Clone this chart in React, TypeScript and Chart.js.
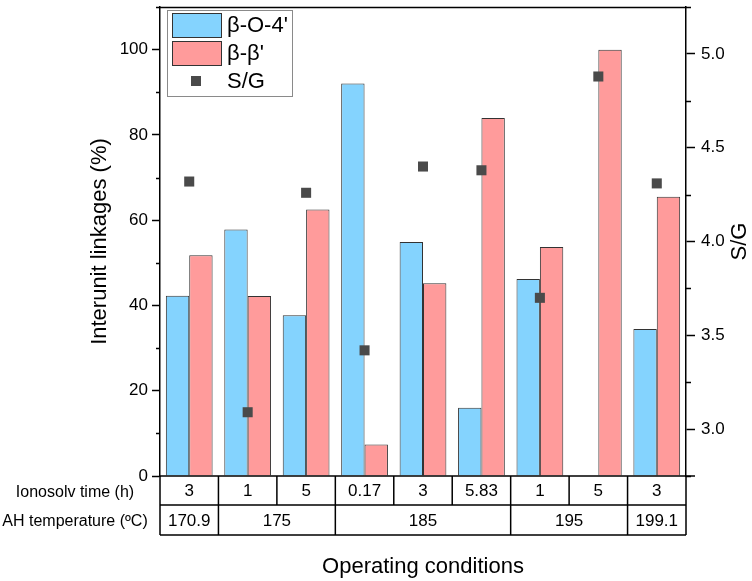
import { useEffect, useRef } from "react"
import { Chart, registerables } from "chart.js"

Chart.register(...registerables)

// table rows under the x axis
const ionosolvTime = ["3", "1", "5", "0.17", "3", "5.83", "1", "5", "3"]
const ahTemperature = ["170.9", "175", "185", "195", "199.1"]
const ahTemperatureSpan = [1, 2, 3, 2, 1]

// series
const betaO4 = [42.3, 57.8, 37.7, 92.1, 54.9, 16.0, 46.2, null, 34.5]
const betaBeta = [51.8, 42.2, 62.5, 7.4, 45.2, 84.0, 53.7, 100, 65.5]
const sgRatio = [4.32, 3.09, 4.26, 3.42, 4.4, 4.38, 3.7, 4.88, 4.31]

const FONT = "'Liberation Sans', Arial, sans-serif"
const BLUE = "#84d3fe"
const PINK = "#ff9b9b"
const POINT = "#4a4a4a"

const isStep = (v: number, step: number) => Math.abs(v / step - Math.round(v / step)) < 1e-6

const extrasPlugin = {
  id: "extras",
  afterDraw(chart: any) {
    const { ctx, chartArea } = chart
    const { left, right, top, bottom } = chartArea
    const x = chart.scales.x
    const y = chart.scales.y
    const y1 = chart.scales.y1
    ctx.save()

    // minor ticks + frame
    ctx.strokeStyle = "#000"
    ctx.lineWidth = 1.5
    ctx.beginPath()
    for (let v = 10; v <= 110; v += 20) {
      const py = Math.round(y.getPixelForValue(v)) + 0.5
      ctx.moveTo(left - 4, py)
      ctx.lineTo(left, py)
    }
    for (let v = 2.75; v <= 5.25; v += 0.5) {
      const py = Math.round(y1.getPixelForValue(v)) + 0.5
      ctx.moveTo(right, py)
      ctx.lineTo(right + 5, py)
    }
    const ty = Math.round(top) + 0.5
    ctx.moveTo(left, ty)
    ctx.lineTo(right, ty)
    ctx.stroke()

    // table
    const row1 = bottom + 29
    const row2 = bottom + 59
    const n = ionosolvTime.length
    const edge = (i: number) => (i === 0 ? left : i === n ? right : (x.getPixelForValue(i - 1) + x.getPixelForValue(i)) / 2)
    ctx.beginPath()
    ctx.moveTo(left, bottom)
    ctx.lineTo(right + 9, bottom)
    ctx.moveTo(left, row1)
    ctx.lineTo(right, row1)
    ctx.moveTo(left, row2)
    ctx.lineTo(right, row2)
    ctx.moveTo(left, bottom)
    ctx.lineTo(left, row2)
    ctx.moveTo(right, bottom)
    ctx.lineTo(right, row2)
    for (let i = 1; i < n; i++) {
      const px = edge(i)
      ctx.moveTo(px, bottom)
      ctx.lineTo(px, row1)
    }
    let acc = 0
    ahTemperatureSpan.forEach((s, i) => {
      acc += s
      if (i < ahTemperatureSpan.length - 1) {
        ctx.moveTo(edge(acc), row1)
        ctx.lineTo(edge(acc), row2)
      }
    })
    ctx.stroke()

    ctx.fillStyle = "#000"
    ctx.textAlign = "center"
    ctx.textBaseline = "middle"
    ctx.font = `17px ${FONT}`
    ionosolvTime.forEach((t, i) => ctx.fillText(t, x.getPixelForValue(i), (bottom + row1) / 2 + 1))
    acc = 0
    ahTemperature.forEach((t, i) => {
      const cx = (edge(acc) + edge(acc + ahTemperatureSpan[i])) / 2
      acc += ahTemperatureSpan[i]
      ctx.fillText(t, cx, (row1 + row2) / 2 + 1)
    })
    ctx.font = `16px ${FONT}`
    ctx.fillText("Ionosolv time (h)", 75, (bottom + row1) / 2 + 2)
    ctx.fillText("AH temperature (ºC)", 75, (row1 + row2) / 2 + 2)

    // axis titles
    ctx.font = `22px ${FONT}`
    ctx.fillText("Operating conditions", (left + right) / 2, 567)
    ctx.save()
    ctx.translate(100, (top + bottom) / 2)
    ctx.rotate(-Math.PI / 2)
    ctx.fillText("Interunit linkages (%)", 0, 0)
    ctx.restore()
    ctx.save()
    ctx.translate(740, (top + bottom) / 2)
    ctx.rotate(-Math.PI / 2)
    ctx.fillText("S/G", 0, 0)
    ctx.restore()

    // legend
    ctx.fillStyle = "#fff"
    ctx.fillRect(167, 10, 125, 86)
    ctx.strokeStyle = "#8a8a8a"
    ctx.lineWidth = 1
    ctx.strokeRect(167.5, 10.5, 125, 86)
    ctx.strokeStyle = "#333"
    ctx.fillStyle = BLUE
    ctx.fillRect(172, 13, 49, 24)
    ctx.strokeRect(172.5, 13.5, 49, 24)
    ctx.fillStyle = PINK
    ctx.fillRect(172, 41, 49, 24)
    ctx.strokeRect(172.5, 41.5, 49, 24)
    ctx.fillStyle = POINT
    ctx.fillRect(191, 76, 10, 10)
    ctx.fillStyle = "#000"
    ctx.textAlign = "left"
    ctx.font = `22px ${FONT}`
    ctx.fillText("β-O-4'", 227, 26)
    ctx.fillText("β-β'", 227, 54)
    ctx.fillText("S/G", 227, 82)

    ctx.restore()
  },
}

export default function App() {
  const canvasRef = useRef<HTMLCanvasElement>(null)
  const chartRef = useRef<Chart | null>(null)

  useEffect(() => {
    document.body.style.margin = "0"
    if (!canvasRef.current) return
    if (chartRef.current) chartRef.current.destroy()
    const ctx = canvasRef.current.getContext("2d")
    if (!ctx) return

    chartRef.current = new Chart(ctx, {
      type: "bar",
      data: {
        labels: ionosolvTime,
        datasets: [
          {
            label: "S/G",
            type: "line",
            data: sgRatio,
            yAxisID: "y1",
            showLine: false,
            pointStyle: "rect",
            pointRadius: 7.1,
            pointBackgroundColor: POINT,
            pointBorderWidth: 0,
            order: 0,
          } as any,
          {
            label: "β-O-4'",
            data: betaO4,
            backgroundColor: BLUE,
            borderColor: "#333",
            borderWidth: 1,
            categoryPercentage: 0.8,
            barPercentage: 1.0,
            yAxisID: "y",
            order: 1,
          },
          {
            label: "β-β'",
            data: betaBeta,
            backgroundColor: PINK,
            borderColor: "#333",
            borderWidth: 1,
            categoryPercentage: 0.8,
            barPercentage: 1.0,
            yAxisID: "y",
            order: 2,
          },
        ],
      },
      options: {
        responsive: false,
        animation: false,
        layout: { padding: { left: 0, right: 0, top: 3, bottom: 105 } },
        plugins: {
          legend: { display: false },
          tooltip: { enabled: false },
        },
        scales: {
          x: { display: false },
          y: {
            position: "left",
            min: 0,
            max: 110,
            afterFit: (scale: any) => {
              scale.width = 160
              scale.paddingTop = 0
              scale.paddingBottom = 0
            },
            border: { display: true, color: "#000", width: 1.5 },
            grid: {
              drawOnChartArea: false,
              tickLength: 8,
              tickWidth: 1.5,
              tickColor: (c: any) => (c.tick && isStep(c.tick.value, 20) ? "#000" : "transparent"),
            },
            ticks: {
              stepSize: 10,
              padding: 4,
              color: "#000",
              font: { family: FONT, size: 17 },
              callback: (v: any) => (isStep(Number(v), 20) ? String(v) : ""),
            },
          },
          y1: {
            position: "right",
            min: 2.75,
            max: 5.25,
            afterFit: (scale: any) => {
              scale.width = 66
              scale.paddingTop = 0
              scale.paddingBottom = 0
            },
            border: { display: true, color: "#000", width: 1.5 },
            grid: {
              drawOnChartArea: false,
              tickLength: 9,
              tickWidth: 1.5,
              tickColor: (c: any) => (c.tick && isStep(c.tick.value, 0.5) ? "#000" : "transparent"),
            },
            ticks: {
              stepSize: 0.25,
              padding: 6,
              color: "#000",
              font: { family: FONT, size: 17 },
              callback: (v: any) => (isStep(Number(v), 0.5) ? Number(v).toFixed(1) : ""),
            },
          },
        },
      },
      plugins: [extrasPlugin],
    })

    return () => {
      if (chartRef.current) {
        chartRef.current.destroy()
        chartRef.current = null
      }
    }
  }, [])

  return (
    <div style={{ width: 752, height: 581, background: "#fff" }}>
      <canvas ref={canvasRef} width={752} height={581} style={{ width: 752, height: 581 }} />
    </div>
  )
}
